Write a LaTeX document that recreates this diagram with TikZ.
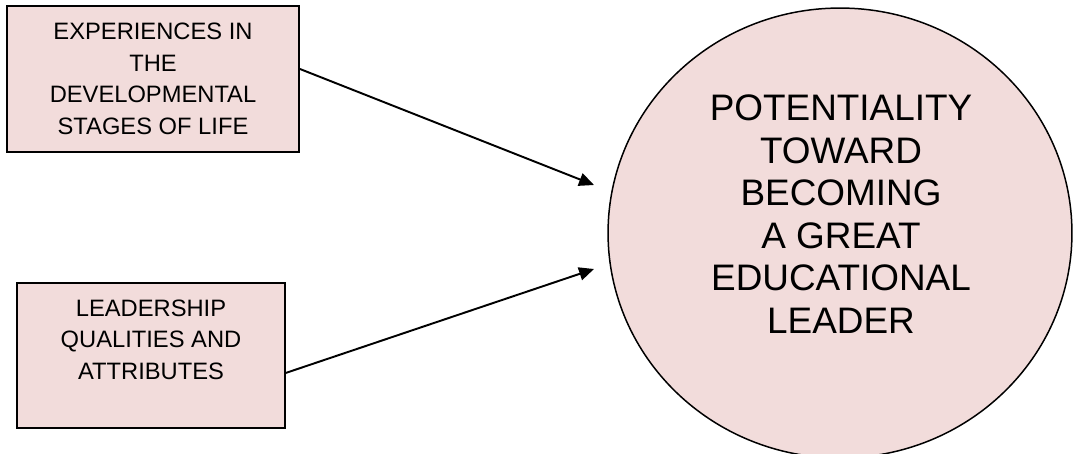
\documentclass[tikz,border=0pt]{standalone}
\usepackage{fontspec}
\setmainfont{Liberation Sans}
\usepackage{tikz}
\usetikzlibrary{shapes,arrows.meta,positioning,calc}
\definecolor{boxpink}{HTML}{F2DCDB}

\begin{document}
\begin{tikzpicture}[
    x=0.02cm, y=-0.02cm,
    factor/.style={rectangle, draw, line width=1.1pt, fill=boxpink, inner sep=0pt, align=center, font=\fontsize{13.5}{18}\selectfont},
    goal/.style={ellipse, draw, line width=0.85pt, fill=boxpink, inner sep=0pt, minimum width=9.28cm, minimum height=9.0cm},
    goaltext/.style={align=center, font=\fontsize{21}{24.2}\selectfont},
    arrow/.style={-{Triangle[length=8.5pt, width=7.5pt]}, line width=1.1pt}
]
    \clip (0,0) rectangle (1075,453);

    \node[factor, minimum width=5.84cm, minimum height=2.92cm] (exp) at (153,79) {EXPERIENCES IN\\THE\\DEVELOPMENTAL\\STAGES OF LIFE};
    \node[factor, minimum width=5.36cm, minimum height=2.9cm] (lead) at (151,355.5) {LEADERSHIP\\QUALITIES AND\\ATTRIBUTES\\\mbox{}};

    \node[goal] (pot) at (840,233) {};
    \node[goaltext] (pottext) at (841,214) {POTENTIALITY\\TOWARD\\BECOMING\\A GREAT\\EDUCATIONAL\\LEADER};

    \coordinate (tip1) at (594,185);
    \coordinate (tip2) at (594,269);

    \draw[arrow] ([yshift=5.7pt]exp.east) -- (tip1);
    \draw[arrow] ([yshift=-9.9pt]lead.east) -- (tip2);
\end{tikzpicture}
\end{document}
